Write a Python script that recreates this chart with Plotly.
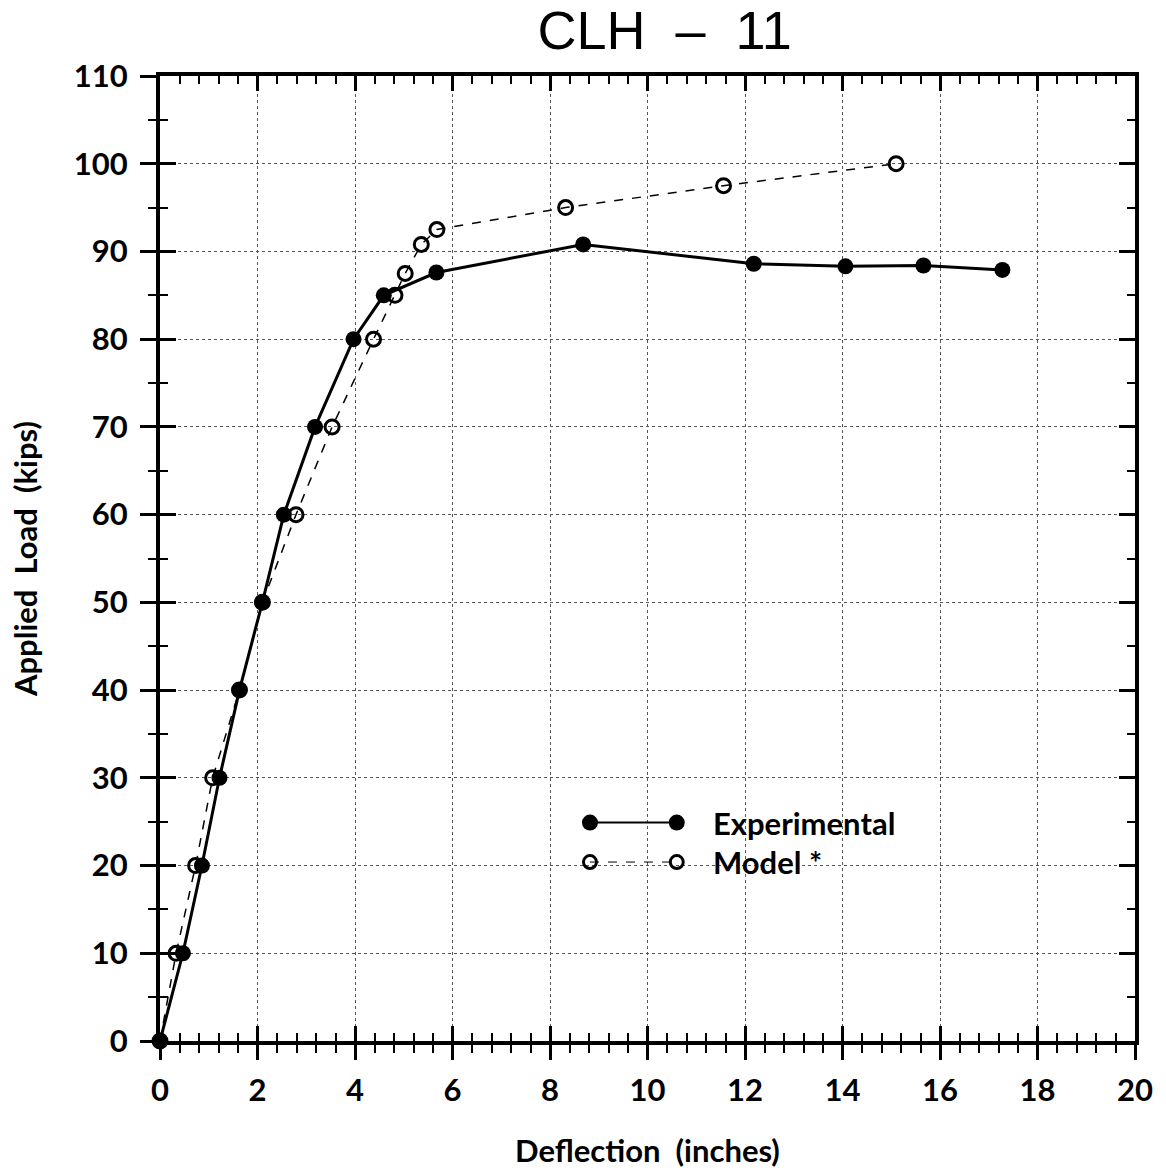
import plotly.graph_objects as go

# ---- data ----
exp_x = [0, 0.47, 0.86, 1.22, 1.63, 2.10, 2.54, 3.18, 3.97, 4.59, 5.67, 8.68, 12.18, 14.06, 15.66, 17.28]
exp_y = [0, 10, 20, 30, 40, 50, 60, 70, 80, 85, 87.6, 90.8, 88.6, 88.3, 88.4, 87.9]
mod_x = [0, 0.33, 0.73, 1.08, 1.63, 2.10, 2.79, 3.53, 4.38, 4.82, 5.03, 5.36, 5.68, 8.32, 11.56, 15.10]
mod_y = [0, 10, 20, 30, 40, 50, 60, 70, 80, 85, 87.5, 90.8, 92.5, 95.0, 97.5, 100]
x_ticks = list(range(0, 21, 2))
y_ticks = list(range(0, 111, 10))
title_text = "CLH  \u2013  11"
x_title = "Deflection  (inches)"
y_title = "Applied  Load  (kips)"
legend_labels = ["Experimental", "Model *"]

FONT = "Lato"
fig = go.Figure()

fig.add_trace(go.Scatter(x=mod_x, y=mod_y, mode="lines+markers",
                         line=dict(color="black", width=1.5, dash="dash"),
                         marker=dict(symbol="circle-open", size=14, color="black", line=dict(width=3)),
                         showlegend=False, cliponaxis=False))
fig.add_trace(go.Scatter(x=exp_x, y=exp_y, mode="lines+markers",
                         line=dict(color="black", width=3),
                         marker=dict(symbol="circle", size=16, color="black"),
                         showlegend=False, cliponaxis=False))

# legend glyphs (layout positions in data units)
lx0, lx1, ly_exp, ly_mod = 8.82, 10.6, 24.9, 20.4
fig.add_trace(go.Scatter(x=[lx0, lx1], y=[ly_exp, ly_exp], mode="lines+markers",
                         line=dict(color="black", width=2),
                         marker=dict(symbol="circle", size=16, color="black"),
                         showlegend=False))
fig.add_trace(go.Scatter(x=[lx0, lx1], y=[ly_mod, ly_mod], mode="lines+markers",
                         line=dict(color="black", width=1, dash="dash"),
                         marker=dict(symbol="circle-open", size=13, color="black", line=dict(width=3)),
                         showlegend=False))
leg_font = dict(family=FONT, size=31, color="black", weight="bold")
fig.add_annotation(x=11.3, y=ly_exp, text=legend_labels[0], showarrow=False, xanchor="left",
                   font=leg_font)
fig.add_annotation(x=11.3, y=ly_mod, text=legend_labels[1], showarrow=False, xanchor="left",
                   font=leg_font)

# invisible trace for overlay axes
fig.add_trace(go.Scatter(x=[0], y=[0], xaxis="x2", yaxis="y2", mode="markers",
                         marker=dict(opacity=0), showlegend=False, hoverinfo="skip"))

tick_font = dict(family=FONT, size=31, color="black", weight="bold")
title_font = dict(family=FONT, size=31, color="black", weight="bold")
fig.update_layout(
    width=1166, height=1171,
    margin=dict(l=160, r=31, t=76, b=130),
    paper_bgcolor="white", plot_bgcolor="white",
    title=dict(text=title_text, x=0.57, xanchor="center", y=0.974, yanchor="middle",
               font=dict(family="Liberation Sans", size=54, color="black")),
    xaxis=dict(range=[0, 20], tickvals=x_ticks, ticktext=[str(v) for v in x_ticks],
               ticks="outside", ticklen=15, tickwidth=2.5, tickcolor="black",
               minor=dict(ticks="outside", dtick=0.4, tick0=0, ticklen=8, tickwidth=2, tickcolor="black", showgrid=False),
               showline=True, linewidth=4, linecolor="black", mirror=True,
               showgrid=True, gridcolor="#555", griddash="dot", gridwidth=1,
               tickfont=tick_font, zeroline=False, ticklabelstandoff=4, automargin=False,
               title=dict(text=x_title, font=title_font, standoff=34)),
    yaxis=dict(range=[0, 110], tickvals=y_ticks, ticktext=[str(v) for v in y_ticks],
               ticks="outside", ticklen=16, tickwidth=2.5, tickcolor="black",
               minor=dict(ticks="outside", dtick=5, tick0=0, ticklen=8, tickwidth=2, tickcolor="black", showgrid=False),
               showline=True, linewidth=4, linecolor="black", mirror=True,
               showgrid=True, gridcolor="#555", griddash="dot", gridwidth=1,
               tickfont=tick_font, zeroline=False, ticklabelstandoff=6, automargin=False,
               title=dict(text=y_title, font=title_font, standoff=28)),
    xaxis2=dict(range=[0, 20], overlaying="x", anchor="y", side="bottom", automargin=False,
                tickvals=x_ticks, ticks="inside", ticklen=15, tickwidth=2.5, tickcolor="black",
                minor=dict(ticks="inside", dtick=0.4, tick0=0, ticklen=8, tickwidth=2, tickcolor="black"),
                showticklabels=False, showgrid=False, showline=False, mirror="ticks", zeroline=False),
    yaxis2=dict(range=[0, 110], overlaying="y", anchor="x", side="left", automargin=False,
                tickvals=y_ticks, ticks="inside", ticklen=16, tickwidth=2.5, tickcolor="black",
                minor=dict(ticks="inside", dtick=5, tick0=0, ticklen=8, tickwidth=2, tickcolor="black"),
                showticklabels=False, showgrid=False, showline=False, mirror="ticks", zeroline=False),
)

fig.write_html("out.html")
